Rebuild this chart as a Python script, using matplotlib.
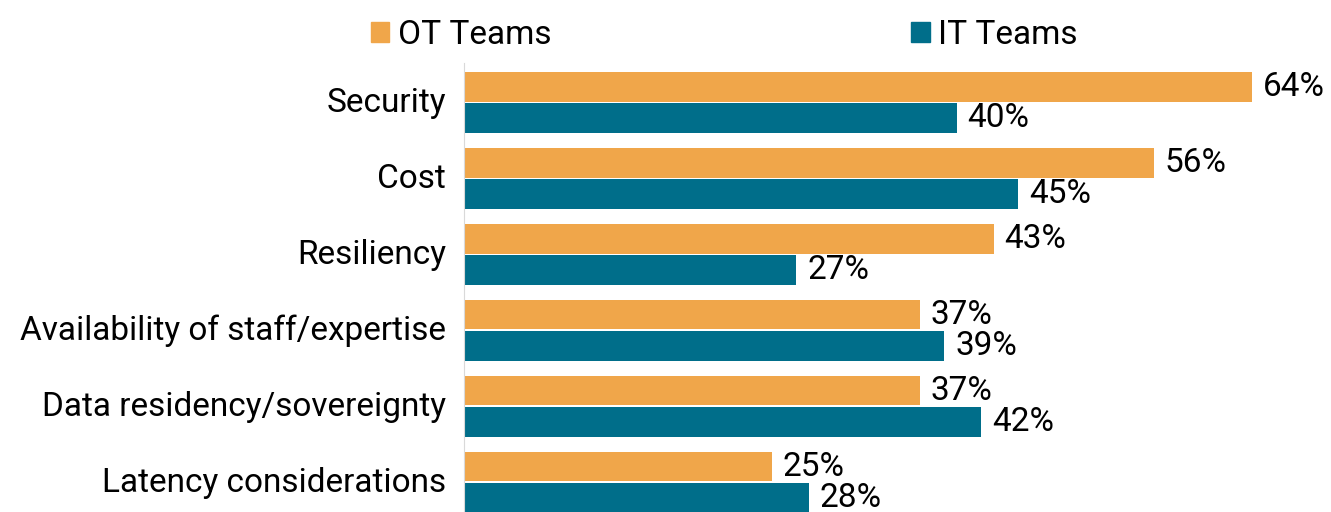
import matplotlib.pyplot as plt
import numpy as np
from matplotlib.patches import Patch

categories = ["Security", "Cost", "Resiliency", "Availability of staff/expertise",
              "Data residency/sovereignty", "Latency considerations"]
ot_teams = [64, 56, 43, 37, 37, 25]
it_teams = [40, 45, 27, 39, 42, 28]

orange = "#F0A64A"
teal = "#006E8A"

plt.rcParams['font.family'] = ['Roboto', 'DejaVu Sans']
fs = 24

fig = plt.figure(figsize=(13.31, 5.12), dpi=100)
ax = fig.add_axes([464 / 1331, 0, 862 / 1331, 1 - 63 / 512])

y = np.arange(len(categories))
h = 0.385
off = 0.205

ax.barh(y - off, ot_teams, height=h, color=orange)
ax.barh(y + off, it_teams, height=h, color=teal)

for yi, v in zip(y, ot_teams):
    ax.text(v + 0.9, yi - off, f"{v}%", va="center", ha="left", fontsize=fs)
for yi, v in zip(y, it_teams):
    ax.text(v + 0.9, yi + off, f"{v}%", va="center", ha="left", fontsize=fs)

ax.set_yticks(y - 0.04)
ax.set_yticklabels(categories, fontsize=fs)
ax.tick_params(axis="y", length=0, pad=13)
ax.set_xticks([])
ax.set_xlim(0, 70)
ax.set_ylim(5.39, -0.52)
for s in ["top", "right", "bottom"]:
    ax.spines[s].set_visible(False)
ax.spines["left"].set_color("#D9D9D9")

handles = [Patch(color=orange, label="OT Teams"), Patch(color=teal, label="IT Teams")]
fig.legend(handles=handles, loc="center left", bbox_to_anchor=(341 / 1331, 1 - 35 / 512),
           ncol=2, frameon=False, fontsize=fs, handlelength=0.55, handleheight=0.55,
           handletextpad=0.25, columnspacing=10.8)

fig.savefig("out.png", dpi=100)
